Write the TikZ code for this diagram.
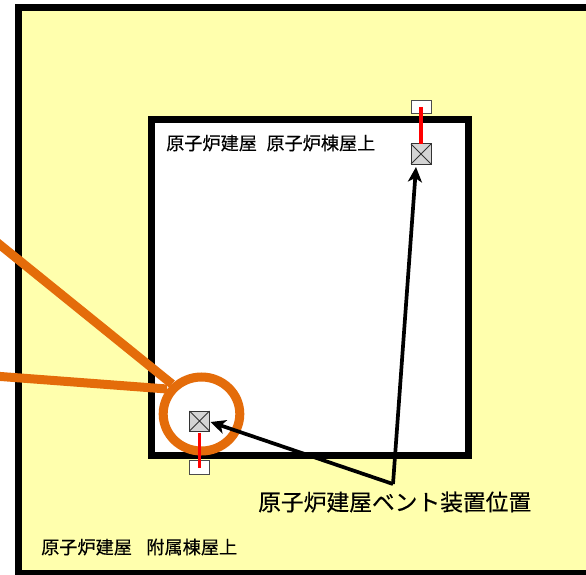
\documentclass[tikz,border=0pt]{standalone}
\usepackage{fontspec}
\newfontfamily\cjk{Noto Sans CJK JP}[FakeBold=0.25]
\newfontfamily\cjkb{Noto Sans CJK JP}[FakeBold=0.2]
\usetikzlibrary{arrows.meta,calc}
\definecolor{bldg}{HTML}{FFFFAD}
\definecolor{ring}{HTML}{E46C0A}
\definecolor{unit}{HTML}{D4D4D4}
\tikzset{
  wall/.style={draw=black,line width=7bp,miter limit=10},
  ventbox/.style={draw=black!80,line width=1bp,fill=unit,minimum width=20bp,minimum height=20bp,inner sep=0pt,outer sep=0pt},
  capbox/.style={draw=black!70,line width=1bp,fill=white,minimum width=20bp,minimum height=13.5bp,inner sep=0pt,outer sep=0pt},
  pipe/.style={draw=red,line width=3.4bp},
  ringline/.style={draw=ring,line width=9bp},
  pointer/.style={draw=black,line width=3.7bp,-{Stealth[length=15bp,width=14bp,inset=4bp]},line join=miter},
  small/.style={font=\cjk\fontsize{18.15bp}{20bp}\selectfont,inner sep=0pt,anchor=west,text=black},
  big/.style={font=\cjkb\fontsize{22.75bp}{26bp}\selectfont,inner sep=0pt,anchor=west,text=black}
}
\begin{document}
\begin{tikzpicture}[x=1bp,y=-1bp]
\useasboundingbox (0,0) rectangle (586,575);
\begin{scope}
\clip (0,0) rectangle (586,575);
\path[wall,fill=bldg] (18.5,8) rectangle (600,573);
\path[wall,fill=white] (151,120) rectangle (468,455);
\coordinate (l1) at (-6,240);
\coordinate (l2) at (-6,376);
\node[draw=none,minimum width=76bp,minimum height=76bp,inner sep=0pt,outer sep=0pt] (ringc) at (201.5,414) {};
\path[ringline] (l1) -- (172,384);
\path[ringline] (l2) -- (167,389);
\path[ringline] (ringc) ellipse (38.3bp and 37bp);
\node[capbox] (captop) at (421,107) {};
\node[ventbox] (venttop) at (421,154) {};
\node[capbox] (capbot) at (199.5,467.5) {};
\node[ventbox] (ventbot) at (199.5,421) {};
\foreach \n in {venttop,ventbot} {
  \draw[black!80,line width=.8bp] (\n.north west) -- (\n.south east) (\n.north east) -- (\n.south west);
}
\path[pipe] (captop.center) -- (venttop.north);
\path[pipe] (ventbot.south) ++(0,1.5) -- (capbot.center);
\node[big] (lab) at (258,502) {原子炉建屋ベント装置位置};
\node[small] (t1) at (166,143) {原子炉建屋\hspace{9.5bp}原子炉棟屋上};
\node[small] (t2) at (41,547) {原子炉建屋\hspace{14.5bp}附属棟屋上};
\coordinate (apex) at (393,484);
\draw[pointer] (apex) -- ($(ventbot.east)+(1,1)$);
\draw[pointer] (apex) -- ($(venttop.south)+(-5,3)$);
\end{scope}
\end{tikzpicture}
\end{document}
